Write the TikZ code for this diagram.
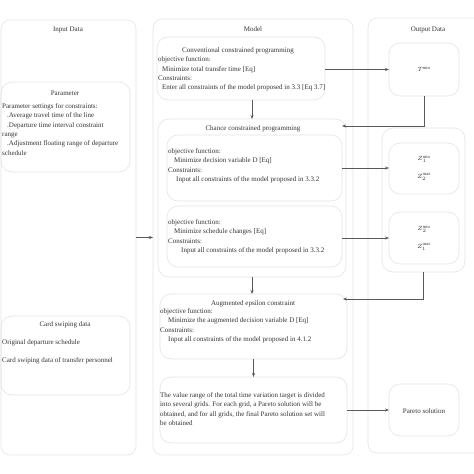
\documentclass[tikz,border=0pt]{standalone}
\usepackage{fontspec}
\setmainfont{Liberation Serif}
\usetikzlibrary{arrows.meta}

\tikzset{
  col/.style={draw=gray!22, line width=0.6pt, rounded corners=9pt, inner sep=0pt, outer sep=0pt},
  box/.style={draw=gray!22, line width=0.6pt, rounded corners=11pt, inner sep=0pt, outer sep=0pt},
  txt/.style={font=\fontsize{7}{9.3}\selectfont, text=black!80, align=left, inner sep=0pt},
  zlab/.style={font=\fontsize{6.5}{8}\selectfont, text=black!80, inner sep=0pt},
  arr/.style={-{Stealth[length=4pt,width=3pt]}, draw=black!65, line width=0.6pt}
}

\begin{document}
\begin{tikzpicture}[x=1pt, y=-1pt]
    \useasboundingbox (0,0) rectangle (474,474);

    % columns
    \node[col, minimum width=135pt, minimum height=435pt] (incol) at (68.5,237.5) {};
    \node[col, minimum width=200pt, minimum height=436pt] (modcol) at (253,237) {};
    \node[col, minimum width=122pt, minimum height=435pt] (outcol) at (429,235.5) {};
    \node[txt] (intitle) at (68,30) {Input Data};
    \node[txt] (modtitle) at (253,29) {Model};
    \node[txt] (outtitle) at (428,30) {Output Data};

    % input data
    \node[box, minimum width=129pt, minimum height=90pt] (param) at (65.5,127) {};
    \node[txt] (paramtitle) at (65,93) {Parameter};
    \node[txt, anchor=north west] (paramtext) at (2,103.5) {Parameter settings for constraints:\\
      \hspace*{5pt}.Average travel time of the line\\
      \hspace*{5pt}.Departure time interval constraint\\
      range\\
      \hspace*{5pt}.Adjustment floating range of departure\\
      schedule};

    \node[box, minimum width=129pt, minimum height=79pt] (card) at (65.5,355.5) {};
    \node[txt] (cardtitle) at (65,325) {Card swiping data};
    \node[txt, anchor=west] (cardtext1) at (2,343) {Original departure schedule};
    \node[txt, anchor=west] (cardtext2) at (2,361) {Card swiping data of transfer personnel};

    % model
    \node[box, minimum width=168pt, minimum height=63pt] (conv) at (241,68.5) {};
    \node[txt, anchor=north west] (convtext) at (158,47.5) {\hspace*{24pt}Conventional constrained programming\\
      objective function:\\
      \hspace*{4pt}Minimize total transfer time [Eq]\\
      Constraints:\\
      \hspace*{4pt}Enter all constraints of the model proposed in 3.3 [Eq 3.7]};

    \node[box, minimum width=188pt, minimum height=158pt] (chance) at (252,198) {};
    \node[txt] (chancetitle) at (253,129) {Chance constrained programming};
    \node[box, minimum width=175pt, minimum height=66pt] (obj1) at (254.5,168) {};
    \node[txt, anchor=north west] (obj1text) at (168,148.5) {objective function:\\
      \hspace*{6pt}Minimize decision variable D [Eq]\\
      Constraints:\\
      \hspace*{8pt}Input all constraints of the model proposed in 3.3.2};
    \node[box, minimum width=175pt, minimum height=61pt] (obj2) at (254.5,236.5) {};
    \node[txt, anchor=north west] (obj2text) at (168,219.5) {objective function:\\
      \hspace*{6pt}Minimize schedule changes [Eq]\\
      Constraints:\\
      \hspace*{13pt}Input all constraints of the model proposed in 3.3.2};

    \node[box, minimum width=187pt, minimum height=65pt] (aug) at (253.5,326.5) {};
    \node[txt] (augtitle) at (253,304) {Augmented epsilon constraint};
    \node[txt, anchor=north west] (augtext) at (160,308.5) {objective function:\\
      \hspace*{8pt}Minimize the augmented decision variable D [Eq]\\
      Constraints:\\
      \hspace*{8pt}Input all constraints of the model proposed in 4.1.2};

    \node[box, minimum width=187pt, minimum height=66pt] (grid) at (253.5,410) {};
    \node[txt, anchor=north west] (gridtext) at (160,392.5) {The value range of the total time variation target is divided\\
      into several grids. For each grid, a Pareto solution will be\\
      obtained, and for all grids, the final Pareto solution set will\\
      be obtained};

    % output data
    \node[box, minimum width=70pt, minimum height=53pt] (tmin) at (424,69.5) {};
    \node[zlab] (tlabel) at (424,69) {$T^{\min}$};
    \node[box, minimum width=83pt, minimum height=144pt] (zgroup) at (423.5,200) {};
    \node[box, minimum width=70pt, minimum height=51pt] (z1) at (424,168.5) {};
    \node[zlab] (z1a) at (424,159) {$Z_1^{\min}$};
    \node[zlab] (z1b) at (424,177) {$Z_2^{\max}$};
    \node[box, minimum width=70pt, minimum height=52pt] (z2) at (424,238) {};
    \node[zlab] (z2a) at (424,229) {$Z_2^{\min}$};
    \node[zlab] (z2b) at (424,247) {$Z_1^{\max}$};
    \node[box, minimum width=70pt, minimum height=52pt] (pareto) at (424,410) {};
    \node[txt] (paretolabel) at (424,411) {Pareto solution};

    % connectors
    \draw[arr] (incol.east) -- (incol.east -| modcol.west);
    \draw[arr] (conv.east |- tmin.west) -- (tmin.west);
    \draw[arr] (conv.south -| chance.north) -- (chance.north);
    \draw[arr] (tmin.south) |- ([yshift=-7pt,xshift=-4pt]chance.north east);
    \draw[arr] (obj1.east) -- (obj1.east -| z1.west);
    \draw[arr] (obj2.east |- z2.west) -- (z2.west);
    \draw[arr] (chance.south) -- (chance.south |- aug.north);
    \draw[arr] (zgroup.south) |- ([yshift=-5pt,xshift=-4pt]aug.north east);
    \draw[arr] (aug.south) -- (grid.north);
    \draw[arr] (grid.east |- pareto.west) -- (pareto.west);
\end{tikzpicture}
\end{document}
